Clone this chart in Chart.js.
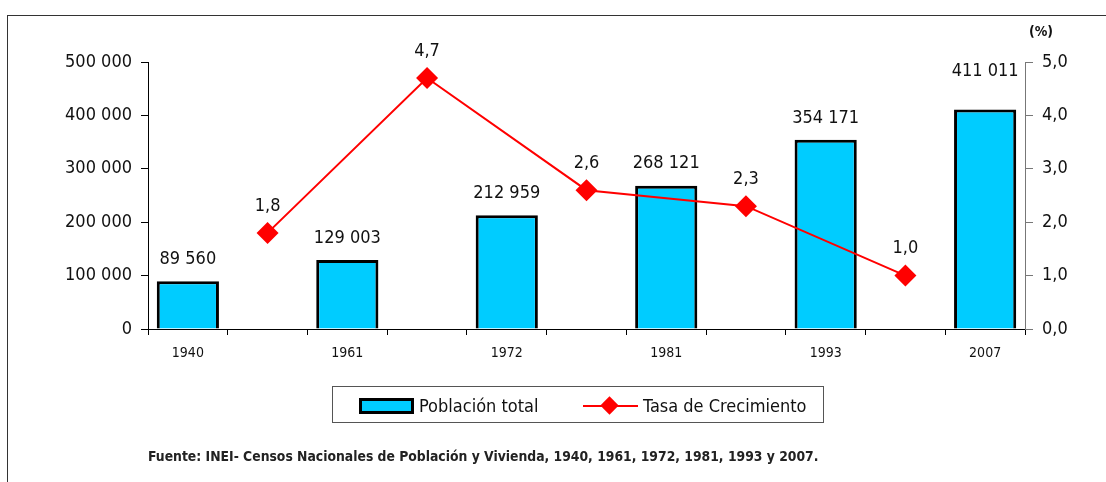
<!DOCTYPE html>
<html>
<head>
<meta charset="utf-8">
<script src="https://cdn.jsdelivr.net/npm/chart.js@4"></script>
<style>
  body { margin: 0; background: #fff; font-family: "Liberation Sans Narrow", "DejaVu Sans Condensed", sans-serif; }
  #wrap { position: relative; width: 1106px; height: 482px; overflow: hidden; }
  #chart-box { position: absolute; left: 0; top: 0; width: 1106px; height: 482px; }
  #frame { position: absolute; left: 7px; top: 15px; width: 1110px; height: 480px; border-left: 1px solid #333; border-top: 1px solid #333; }
  #legend { position: absolute; left: 332px; top: 386px; width: 492px; height: 37px; border: 1px solid #555; box-sizing: border-box; font-size: 18px; color: #111; }
  .lg-item { position: absolute; top: 0; height: 37px; line-height: 37px; white-space: nowrap; }
  .swatch { position: absolute; left: 26px; top: 11px; width: 49px; height: 10px; background: #00ccff; border: 3px solid #000; }
  .redline { position: absolute; left: 250px; top: 18px; width: 55px; height: 2px; background: #ff0000; }
  .diamond { position: absolute; left: 270px; top: 12px; width: 13px; height: 13px; background: #ff0000; transform: rotate(45deg); }
  #source { position: absolute; left: 148px; top: 448px; font-size: 13.8px; font-weight: bold; color: #222; white-space: nowrap; }
</style>
</head>
<body>
<div id="wrap">
  <div id="frame"></div>
  <div id="chart-box"><canvas id="chart"></canvas></div>
  <div id="legend">
    <div class="swatch"></div>
    <div class="lg-item" style="left:86px">Población total</div>
    <div class="redline"></div>
    <div class="diamond"></div>
    <div class="lg-item" style="left:310px">Tasa de Crecimiento</div>
  </div>
  <div id="source">Fuente: INEI- Censos Nacionales de Población y Vivienda, 1940, 1961, 1972, 1981, 1993 y 2007.</div>
</div>
<script>
// census years (bars) and intercensal growth rate (points between them)
var years = ['1940', '1961', '1972', '1981', '1993', '2007'];
var population = [89560, 129003, 212959, 268121, 354171, 411011];
var growthRate = [1.8, 4.7, 2.6, 2.3, 1.0];
var leftTicks = [0, 100000, 200000, 300000, 400000, 500000];
var rightTicks = [0, 1, 2, 3, 4, 5];

var FONT = '"Liberation Sans Narrow", "DejaVu Sans Condensed", sans-serif';

// interleave: bars on even slots, rates on odd slots
var labels = [], barData = [], lineData = [];
years.forEach(function(y, i) {
    labels.push(y);
    barData.push(population[i]);
    lineData.push(null);
    if (i < growthRate.length) {
        labels.push('');
        barData.push(null);
        lineData.push(growthRate[i]);
    }
});

function fmtThousands(v) {
    return String(v).replace(/\B(?=(\d{3})+(?!\d))/g, ' ');
}

//Draw value labels and the (%) title
var labelPlugin = {
    id: 'valueLabels',
    afterDatasetsDraw: function(chart) {
        var ctx = chart.ctx;
        ctx.save();
        ctx.fillStyle = '#111';
        ctx.font = '18px ' + FONT;
        ctx.textAlign = 'center';
        ctx.textBaseline = 'middle';
        var bars = chart.getDatasetMeta(0).data;
        var lastBar = barData.length - 1;
        bars.forEach(function(el, i) {
            if (barData[i] == null) return;
            var lift = (i === lastBar) ? 38 : 22;
            ctx.fillText(fmtThousands(barData[i]), el.x, el.y - lift);
        });
        var pts = chart.getDatasetMeta(1).data;
        pts.forEach(function(el, i) {
            if (lineData[i] == null) return;
            ctx.fillText(lineData[i].toFixed(1).replace('.', ','), el.x, el.y - 27);
        });
        ctx.font = 'bold 14px ' + FONT;
        ctx.fillText('(%)', chart.scales.y1.left + 16, 32);
        ctx.restore();
    }
};

new Chart(document.getElementById('chart'), {
    data: {
        labels: labels,
        datasets: [{
            type: 'bar',
            label: 'Población total',
            data: barData,
            yAxisID: 'y',
            backgroundColor: '#00ccff',
            borderColor: '#000',
            borderWidth: 3,
            barPercentage: 0.78,
            categoryPercentage: 1,
            skipNull: true,
            order: 2
        }, {
            type: 'line',
            label: 'Tasa de Crecimiento',
            data: lineData,
            yAxisID: 'y1',
            borderColor: '#ff0000',
            backgroundColor: '#ff0000',
            borderWidth: 2,
            pointStyle: 'rectRot',
            pointRadius: 11,
            pointBorderWidth: 0,
            spanGaps: true,
            tension: 0,
            order: 1
        }]
    },
    options: {
        responsive: true,
        maintainAspectRatio: false,
        animation: false,
        layout: { padding: { top: 62, left: 0, right: 0, bottom: 0 } },
        plugins: {
            legend: { display: false },
            tooltip: { enabled: false }
        },
        scales: {
            x: {
                type: 'category',
                offset: true,
                grid: { offset: true, drawOnChartArea: false, drawTicks: true, tickLength: 6, color: '#000', lineWidth: 1 },
                border: { display: true, color: '#000', width: 1 },
                ticks: { color: '#111', font: { family: FONT, size: 14 }, padding: 10, autoSkip: false, maxRotation: 0 },
                afterFit: function(s) { s.height = 153; }
            },
            y: {
                position: 'left',
                min: 0,
                max: 500000,
                afterBuildTicks: function(s) { s.ticks = leftTicks.map(function(v) { return { value: v }; }); },
                grid: { drawOnChartArea: false, drawTicks: true, tickLength: 7, color: '#000' },
                border: { display: true, color: '#000', width: 1 },
                ticks: { color: '#111', font: { family: FONT, size: 18 }, padding: 9, callback: function(v) { return fmtThousands(v); } },
                afterFit: function(s) { s.width = 148; }
            },
            y1: {
                position: 'right',
                min: 0,
                max: 5,
                afterBuildTicks: function(s) { s.ticks = rightTicks.map(function(v) { return { value: v }; }); },
                grid: { drawOnChartArea: false, drawTicks: true, tickLength: 8, color: '#777' },
                border: { display: true, color: '#777', width: 1 },
                ticks: { color: '#111', font: { family: FONT, size: 18 }, padding: 9, callback: function(v) { return v.toFixed(1).replace('.', ','); } },
                afterFit: function(s) { s.width = 81; }
            }
        }
    },
    plugins: [labelPlugin]
});
</script>
</body>
</html>
